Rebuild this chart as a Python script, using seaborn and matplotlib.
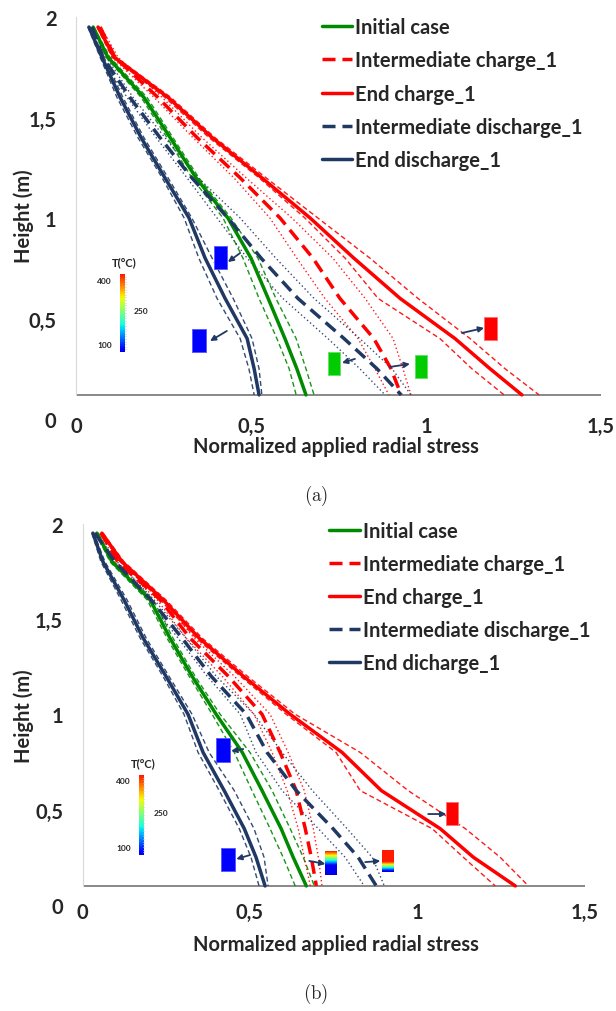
import numpy as np
import pandas as pd
import seaborn as sns
import matplotlib.pyplot as plt
from matplotlib.lines import Line2D
from matplotlib.patches import Rectangle

heights_a = [1.95, 1.8, 1.6, 1.4, 1.2, 1.0, 0.8, 0.6, 0.4, 0.25, 0.12]
heights_b = [1.95, 1.8, 1.6, 1.4, 1.2, 1.0, 0.8, 0.6, 0.4, 0.25, 0.10]

labels_a = ['Initial case', 'Intermediate charge_1', 'End charge_1',
            'Intermediate discharge_1', 'End discharge_1']
labels_b = ['Initial case', 'Intermediate charge_1', 'End charge_1',
            'Intermediate discharge_1', 'End dicharge_1']

x_ticks = [0, 0.5, 1, 1.5]
x_tick_labels = ['0', '0,5', '1', '1,5']
y_ticks = [0, 0.5, 1, 1.5, 2]
y_tick_labels = ['0', '0,5', '1', '1,5', '2']

# ---- panel (a): normalized stress, centre curve + lower / upper bound
init_a = [0.049, 0.091, 0.194, 0.269, 0.343, 0.434, 0.500, 0.549, 0.597, 0.631, 0.657]
init_a_lo = [0.046, 0.086, 0.186, 0.260, 0.331, 0.420, 0.477, 0.523, 0.574, 0.609, 0.629]
init_a_hi = [0.051, 0.097, 0.203, 0.277, 0.351, 0.443, 0.520, 0.571, 0.629, 0.657, 0.680]

ich_a = [0.069, 0.111, 0.234, 0.346, 0.469, 0.583, 0.677, 0.754, 0.851, 0.900, 0.929]
ich_a_lo = [0.066, 0.103, 0.223, 0.334, 0.451, 0.554, 0.631, 0.711, 0.806, 0.854, 0.894]
ich_a_hi = [0.071, 0.120, 0.246, 0.360, 0.486, 0.617, 0.734, 0.826, 0.906, 0.934, 0.957]

ech_a = [0.063, 0.109, 0.263, 0.389, 0.531, 0.669, 0.794, 0.926, 1.083, 1.183, 1.274]
ech_a_lo = [0.060, 0.103, 0.254, 0.380, 0.523, 0.654, 0.769, 0.863, 1.040, 1.131, 1.223]
ech_a_hi = [0.066, 0.114, 0.271, 0.397, 0.543, 0.691, 0.840, 0.977, 1.126, 1.226, 1.323]

idis_a = [0.046, 0.077, 0.154, 0.240, 0.331, 0.434, 0.529, 0.634, 0.766, 0.860, 0.929]
idis_a_lo = [0.043, 0.071, 0.146, 0.229, 0.317, 0.403, 0.489, 0.591, 0.720, 0.811, 0.883]
idis_a_hi = [0.049, 0.086, 0.163, 0.254, 0.349, 0.469, 0.571, 0.680, 0.811, 0.903, 0.957]

edis_a = [0.037, 0.074, 0.126, 0.186, 0.254, 0.323, 0.369, 0.426, 0.489, 0.509, 0.523]
edis_a_lo = [0.034, 0.069, 0.117, 0.177, 0.246, 0.309, 0.351, 0.403, 0.469, 0.494, 0.509]
edis_a_hi = [0.040, 0.080, 0.134, 0.194, 0.263, 0.331, 0.389, 0.449, 0.503, 0.523, 0.531]

# ---- panel (b)
init_b = [0.043, 0.088, 0.202, 0.261, 0.327, 0.399, 0.477, 0.536, 0.593, 0.629, 0.668]
init_b_lo = [0.040, 0.082, 0.193, 0.252, 0.318, 0.387, 0.453, 0.506, 0.560, 0.599, 0.635]
init_b_hi = [0.046, 0.094, 0.211, 0.270, 0.336, 0.411, 0.500, 0.566, 0.620, 0.659, 0.692]

ich_b = [0.055, 0.106, 0.232, 0.321, 0.435, 0.536, 0.590, 0.638, 0.665, 0.683, 0.698]
ich_b_lo = [0.052, 0.100, 0.223, 0.309, 0.417, 0.512, 0.566, 0.611, 0.644, 0.662, 0.680]
ich_b_hi = [0.058, 0.112, 0.241, 0.333, 0.453, 0.560, 0.614, 0.662, 0.689, 0.704, 0.715]

ech_b = [0.058, 0.118, 0.241, 0.348, 0.480, 0.620, 0.775, 0.892, 1.068, 1.167, 1.292]
ech_b_lo = [0.055, 0.112, 0.232, 0.339, 0.471, 0.608, 0.757, 0.829, 1.044, 1.137, 1.232]
ech_b_hi = [0.061, 0.124, 0.249, 0.357, 0.492, 0.635, 0.829, 0.972, 1.143, 1.247, 1.331]

idis_b = [0.037, 0.097, 0.205, 0.297, 0.384, 0.489, 0.551, 0.638, 0.748, 0.823, 0.877]
idis_b_lo = [0.034, 0.091, 0.196, 0.285, 0.372, 0.471, 0.518, 0.596, 0.704, 0.784, 0.841]
idis_b_hi = [0.040, 0.103, 0.214, 0.309, 0.399, 0.512, 0.596, 0.686, 0.790, 0.865, 0.901]

edis_b = [0.031, 0.061, 0.124, 0.181, 0.249, 0.315, 0.360, 0.423, 0.483, 0.518, 0.545]
edis_b_lo = [0.028, 0.055, 0.115, 0.172, 0.240, 0.303, 0.345, 0.408, 0.468, 0.503, 0.527]
edis_b_hi = [0.034, 0.067, 0.133, 0.190, 0.258, 0.327, 0.378, 0.453, 0.512, 0.542, 0.554]

curves_a = [(init_a, init_a_lo, init_a_hi), (ich_a, ich_a_lo, ich_a_hi),
            (ech_a, ech_a_lo, ech_a_hi), (idis_a, idis_a_lo, idis_a_hi),
            (edis_a, edis_a_lo, edis_a_hi)]
curves_b = [(init_b, init_b_lo, init_b_hi), (ich_b, ich_b_lo, ich_b_hi),
            (ech_b, ech_b_lo, ech_b_hi), (idis_b, idis_b_lo, idis_b_hi),
            (edis_b, edis_b_lo, edis_b_hi)]

sns.set_style('white')
plt.rcParams['font.family'] = ['Lato', 'DejaVu Sans']
plt.rcParams['font.weight'] = 'bold'
plt.rcParams['mathtext.fontset'] = 'cm'

GREEN, RED, NAVY = '#008a00', '#ff0000', '#1f3864'
LONG = (0, (3.75, 2.0))
ENV_DASH = (0, (3.6, 2.2))
ENV_DOT = (0, (1.0, 1.9))
# colour, centre-line style, bound-line style
styles = [(GREEN, '-', ENV_DASH), (RED, LONG, ENV_DOT), (RED, '-', ENV_DASH),
          (NAVY, LONG, ENV_DOT), (NAVY, '-', ENV_DASH)]

FS = 14.5

fig = plt.figure(figsize=(6.16, 10.12), dpi=100)
ax_a = fig.add_axes([76 / 616, 1 - 420 / 1012, 525 / 616, 402 / 1012])
ax_b = fig.add_axes([82.5 / 616, 1 - 906 / 1012, 502.5 / 616, 381.4 / 1012])


def draw_curves(ax, heights, curves, labels):
    rows = []
    for name, (mid, lo, hi) in zip(labels, curves):
        for part, vals in (('mid', mid), ('lo', lo), ('hi', hi)):
            for h, v in zip(heights, vals):
                rows.append((name, part, v, h))
    df = pd.DataFrame(rows, columns=['series', 'part', 'stress', 'height'])
    for name, (color, ls, env) in zip(labels, styles):
        for part in ('lo', 'hi'):
            sub = df[(df.series == name) & (df.part == part)]
            sns.lineplot(data=sub, x='stress', y='height', sort=False,
                         estimator=None, color=color, lw=1.0, ls=env,
                         alpha=0.9, ax=ax)
    for name, (color, ls, env) in zip(labels, styles):
        sub = df[(df.series == name) & (df.part == 'mid')]
        sns.lineplot(data=sub, x='stress', y='height', sort=False,
                     estimator=None, color=color, lw=2.5, ls=ls, ax=ax)


def style_axes(ax, h_axis, xlabel_xy, ylabel_xy, labels, legend_xy,
               spacing, hlen):
    for s in ('top', 'right', 'bottom'):
        ax.spines[s].set_visible(False)
    ax.spines['left'].set_color('#d9d9d9')
    ax.spines['left'].set_linewidth(0.8)
    ax.spines['left'].set_bounds(h_axis, 2)
    ax.axhline(h_axis, color='#7f7f7f', lw=1.3, zorder=1)
    ax.set_xticks(x_ticks, x_tick_labels)
    ax.set_yticks(y_ticks, y_tick_labels)
    ax.tick_params(length=0, labelsize=FS)
    ax.tick_params(axis='x', pad=-2)
    ax.tick_params(axis='y', pad=14)
    ax.set_xlabel('Normalized applied radial stress', fontsize=FS, fontweight='bold')
    ax.set_ylabel('Height (m)', fontsize=FS, fontweight='bold')
    ax.xaxis.set_label_coords(*xlabel_xy)
    ax.yaxis.set_label_coords(*ylabel_xy)
    handles = [Line2D([], [], color=c, lw=2.5, ls=ls) for c, ls, _ in styles]
    ax.legend(handles, labels, loc='upper left', bbox_to_anchor=legend_xy,
              bbox_transform=fig.transFigure, frameon=False,
              prop={'size': FS, 'weight': 'bold'}, handlelength=hlen,
              handletextpad=0.15, labelspacing=spacing, borderpad=0,
              borderaxespad=0)
    ax.set_xlim(0, 1.5)
    ax.set_ylim(0, 2)


def block(ax, x0, y0, w, h, color, edge):
    ax.add_patch(Rectangle((x0, y0), w, h, facecolor=color, edgecolor=edge,
                           lw=0.7, zorder=4))


def gradient(ax, x0, x1, y0, y1, start, span, lo=0.1, hi=0.88):
    t = np.linspace(0, 1, 60)
    vals = lo + (hi - lo) * np.clip((t - start) / span, 0, 1)[:, None]
    ax.imshow(vals, extent=(x0, x1, y0, y1), origin='lower', cmap='jet',
              aspect='auto', vmin=0, vmax=1, zorder=4)


def arrow(ax, tail, head):
    ax.annotate('', xy=head, xytext=tail,
                arrowprops=dict(arrowstyle='-|>', color=NAVY, lw=1.3,
                                mutation_scale=8, shrinkA=0, shrinkB=0),
                zorder=5)


def temp_scale(ax, x0, x1, y0, y1, tx, ty, xl, xr):
    gradient(ax, x0, x1, y0, y1, 0.0, 1.0)
    for k in range(1, 30):
        yy = y0 + (y1 - y0) * k / 30
        ax.plot([x1, x1 + 0.004], [yy, yy], color='#c8c8c8', lw=0.5, zorder=4)
    ax.text(tx, ty, 'T(°C)', fontsize=8, fontweight='bold', ha='center', va='center')
    ax.text(xl, y1 - 0.03, '400', fontsize=6, fontweight='bold', ha='right', va='center')
    ax.text(xr, (y0 + y1) / 2 + 0.015, '250', fontsize=6, fontweight='bold', ha='left', va='center')
    ax.text(xl, y0 + 0.04, '100', fontsize=6, fontweight='bold', ha='right', va='center')


# ---- panel (a)
draw_curves(ax_a, heights_a, curves_a, labels_a)
block(ax_a, 0.394, 0.746, 0.037, 0.115, '#0000ff', '#5a5aff')
arrow(ax_a, (0.469, 0.826), (0.434, 0.781))
block(ax_a, 0.331, 0.333, 0.040, 0.115, '#0000ff', '#5a5aff')
arrow(ax_a, (0.431, 0.438), (0.383, 0.388))
block(ax_a, 0.720, 0.219, 0.035, 0.115, '#00cc00', '#66e066')
arrow(ax_a, (0.797, 0.299), (0.760, 0.279))
block(ax_a, 0.969, 0.204, 0.035, 0.115, '#00cc00', '#66e066')
arrow(ax_a, (0.897, 0.259), (0.954, 0.274))
block(ax_a, 1.166, 0.393, 0.037, 0.115, '#ff0000', '#ff7070')
arrow(ax_a, (1.103, 0.428), (1.166, 0.453))
temp_scale(ax_a, 0.126, 0.140, 0.333, 0.721, 0.137, 0.781, 0.103, 0.166)
style_axes(ax_a, 0.12, (0.495, -0.042), (-0.080, 0.507), labels_a,
           (322 / 616, 1 - 18 / 1012), 0.66, 1.5)

# ---- panel (b)
draw_curves(ax_b, heights_b, curves_b, labels_b)
block(ax_b, 0.399, 0.749, 0.042, 0.126, '#0000ff', '#5a5aff')
arrow(ax_b, (0.480, 0.818), (0.444, 0.807))
block(ax_b, 0.414, 0.178, 0.042, 0.121, '#0000ff', '#5a5aff')
arrow(ax_b, (0.500, 0.262), (0.459, 0.241))
gradient(ax_b, 0.725, 0.760, 0.157, 0.278, 0.40, 0.60)
arrow(ax_b, (0.677, 0.231), (0.725, 0.215))
gradient(ax_b, 0.895, 0.928, 0.173, 0.288, 0.05, 0.42)
arrow(ax_b, (0.844, 0.225), (0.889, 0.231))
block(ax_b, 1.086, 0.419, 0.036, 0.121, '#ff0000', '#ff7070')
arrow(ax_b, (1.032, 0.477), (1.086, 0.477))
temp_scale(ax_b, 0.169, 0.181, 0.262, 0.681, 0.182, 0.744, 0.145, 0.211)
style_axes(ax_b, 0.10, (0.504, -0.076), (-0.0965, 0.498), labels_b,
           (329 / 616, 1 - 522 / 1012), 0.64, 1.55)

fig.text(316 / 616, 1 - 496 / 1012, r'$\mathrm{(a)}$', fontsize=13.5,
         ha='center', va='center')
fig.text(316 / 616, 1 - 994 / 1012, r'$\mathrm{(b)}$', fontsize=13.5,
         ha='center', va='center')

fig.savefig('out.png', dpi=100)
